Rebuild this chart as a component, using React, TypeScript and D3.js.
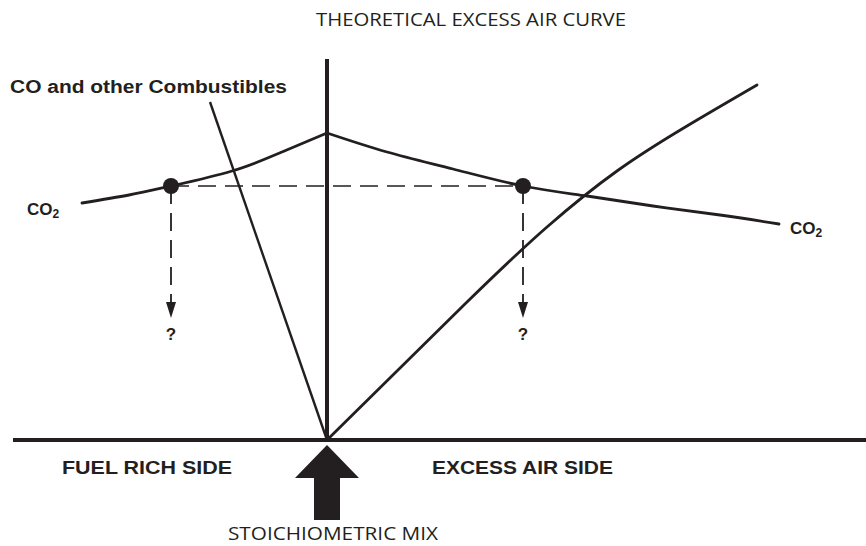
import { useEffect, useRef } from 'react'
import * as d3 from 'd3'

// curve readings, x = air offset from stoichiometric (0), y = level above baseline
const co2RichX = [-24.5, -19.8, -15.6, -9.5, -4.5, 0]
const co2RichY = [23.7, 24.5, 25.4, 26.9, 28.8, 30.7]
const co2LeanX = [0, 6.0, 12.6, 19.6, 26.0, 32.6, 39.3, 45.2]
const co2LeanY = [30.7, 28.8, 27.1, 25.4, 24.4, 23.4, 22.5, 21.6]
const excessAirX = [0, 14, 22, 29, 36, 43.0]
const excessAirY = [0, 13.8, 21.3, 26.9, 31.4, 35.5]
const combustiblesX = [-11.7, 0]
const combustiblesY = [33.8, 0]
const markerX = [-15.6, 19.6]
const markerY = 25.4
const markerDropTo = 12.2
const axisTop = 38.1
const baselineFrom = -31.4
const baselineTo = 54

const title = 'THEORETICAL EXCESS AIR CURVE'
const bottomLabels = ['FUEL RICH SIDE', 'EXCESS AIR SIDE']
const stoichLabel = 'STOICHIOMETRIC MIX'
const combustiblesLabel = 'CO and other Combustibles'

export default function App() {
  const svgRef = useRef<SVGSVGElement | null>(null)

  useEffect(() => {
    if (!svgRef.current) return
    const width = 866
    const height = 546

    d3.select(svgRef.current).selectAll('*').remove()
    const svg = d3.select(svgRef.current).attr('width', width).attr('height', height)

    const x = d3.scaleLinear().domain([0, 10]).range([327, 427])
    const y = d3.scaleLinear().domain([0, 10]).range([440, 340])

    const bold = '"Liberation Sans", Arial, sans-serif'
    const light = '"Open Sans", sans-serif'
    const ink = '#231f20'

    // title
    svg.append('text')
      .attr('x', 316).attr('y', 26)
      .attr('textLength', 310).attr('lengthAdjust', 'spacingAndGlyphs')
      .style('font-family', light).style('font-size', '18px').style('fill', ink)
      .text(title)

    // baseline + stoichiometric axis
    svg.append('line')
      .attr('x1', x(baselineFrom)).attr('x2', x(baselineTo))
      .attr('y1', y(0)).attr('y2', y(0))
      .attr('stroke', ink).attr('stroke-width', 4)
    svg.append('line')
      .attr('x1', x(0)).attr('x2', x(0))
      .attr('y1', y(0)).attr('y2', y(axisTop))
      .attr('stroke', ink).attr('stroke-width', 4)

    const line = d3.line<[number, number]>()
      .x(d => x(d[0])).y(d => y(d[1]))
      .curve(d3.curveNatural)

    const series = [
      [co2RichX, co2RichY],
      [co2LeanX, co2LeanY],
      [excessAirX, excessAirY],
    ]
    series.forEach(([xs, ys]) => {
      svg.append('path')
        .attr('d', line(xs.map((v, i) => [v, ys[i]] as [number, number])))
        .attr('fill', 'none').attr('stroke', ink).attr('stroke-width', 2.8)
        .attr('stroke-linecap', 'round')
    })

    svg.append('path')
      .attr('d', d3.line<[number, number]>().x(d => x(d[0])).y(d => y(d[1]))(
        combustiblesX.map((v, i) => [v, combustiblesY[i]] as [number, number])))
      .attr('fill', 'none').attr('stroke', ink).attr('stroke-width', 2.4)

    // dashed guides
    svg.append('line')
      .attr('x1', x(markerX[0])).attr('x2', x(markerX[1]))
      .attr('y1', y(markerY)).attr('y2', y(markerY))
      .attr('stroke', ink).attr('stroke-width', 1.6)
      .attr('stroke-dasharray', '18 9')

    markerX.forEach(mx => {
      svg.append('line')
        .attr('x1', x(mx)).attr('x2', x(mx))
        .attr('y1', y(markerY)).attr('y2', y(markerDropTo) - 14)
        .attr('stroke', ink).attr('stroke-width', 1.8)
        .attr('stroke-dasharray', '18 9')
      svg.append('path')
        .attr('d', `M${x(mx) - 5},${y(markerDropTo) - 16}L${x(mx) + 5},${y(markerDropTo) - 16}L${x(mx)},${y(markerDropTo)}Z`)
        .attr('fill', ink)
      svg.append('text')
        .attr('x', x(mx)).attr('y', y(markerDropTo) + 22)
        .attr('text-anchor', 'middle')
        .style('font-family', bold).style('font-weight', 'bold').style('font-size', '17px')
        .style('fill', ink)
        .text('?')
      svg.append('circle')
        .attr('cx', x(mx)).attr('cy', y(markerY)).attr('r', 8)
        .attr('fill', ink)
    })

    // curve labels
    svg.append('text')
      .attr('x', 10).attr('y', 93)
      .attr('textLength', 277).attr('lengthAdjust', 'spacingAndGlyphs')
      .style('font-family', bold).style('font-weight', 'bold').style('font-size', '18px')
      .style('fill', ink)
      .text(combustiblesLabel)

    const co2Label = (lx: number, ly: number) => {
      const t = svg.append('text')
        .attr('x', lx).attr('y', ly)
        .style('font-family', bold).style('font-weight', 'bold').style('font-size', '17px')
        .style('fill', ink)
      t.append('tspan').text('CO')
      t.append('tspan').attr('dy', 3).style('font-size', '12px').text('2')
    }
    co2Label(x(co2RichX[0]) - 55, y(co2RichY[0]) + 12)
    co2Label(x(co2LeanX[co2LeanX.length - 1]) + 11, y(co2LeanY[co2LeanY.length - 1]) + 10)

    // bottom labels
    const sideX = [62, 432]
    const sideW = [170, 181]
    bottomLabels.forEach((label, i) => {
      svg.append('text')
        .attr('x', sideX[i]).attr('y', 474)
        .attr('textLength', sideW[i]).attr('lengthAdjust', 'spacingAndGlyphs')
        .style('font-family', bold).style('font-weight', 'bold').style('font-size', '19px')
        .style('fill', ink)
        .text(label)
    })

    // stoichiometric arrow
    const ax = x(0)
    svg.append('path')
      .attr('d', `M${ax},${y(0) + 5}L${ax + 32},${y(0) + 38}L${ax + 13},${y(0) + 38}L${ax + 13},${y(0) + 80}L${ax - 13},${y(0) + 80}L${ax - 13},${y(0) + 38}L${ax - 32},${y(0) + 38}Z`)
      .attr('fill', ink)

    svg.append('text')
      .attr('x', 228).attr('y', 540)
      .attr('textLength', 210).attr('lengthAdjust', 'spacingAndGlyphs')
      .style('font-family', light).style('font-size', '18px').style('fill', ink)
      .text(stoichLabel)
  }, [])

  return (
    <div style={{ position: 'absolute', left: 0, top: 0, background: '#fff' }}>
      <svg ref={svgRef} style={{ display: 'block' }}></svg>
    </div>
  )
}
